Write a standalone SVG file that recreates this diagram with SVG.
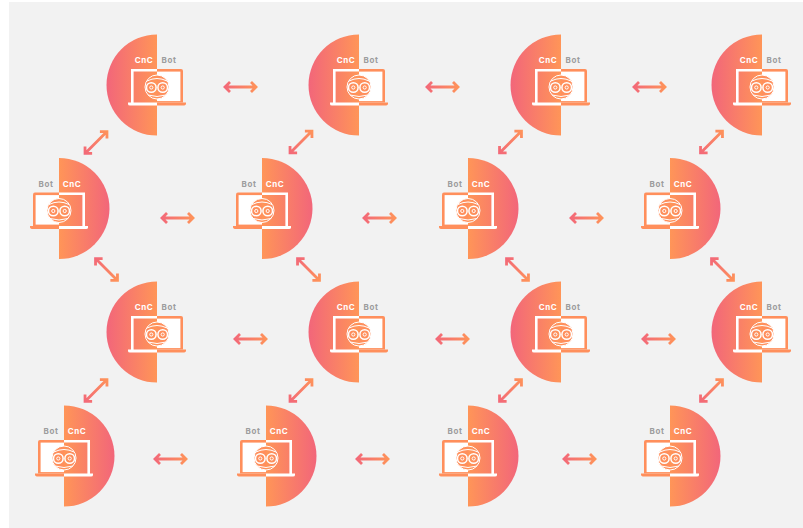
<svg xmlns="http://www.w3.org/2000/svg" width="803" height="528" viewBox="0 0 803 528">
<style>
.t{font-family:"Inter","Liberation Sans",sans-serif;font-size:8px;font-weight:700;letter-spacing:.6px;text-anchor:middle}
.c{fill:#fff}.b{fill:#9d9d9d}
.ln{fill:none;stroke:#fff;stroke-width:1}
.e{fill:none;stroke:#fff;stroke-width:1.5}
.a{fill:none;stroke:url(#ag);stroke-width:2.8}
</style>
<defs>
<linearGradient id="dl" x1="0" x2="1" y1="0" y2="0"><stop offset="0" stop-color="#f2667a"/><stop offset="1" stop-color="#ff9558"/></linearGradient>
<linearGradient id="dr" x1="0" x2="1" y1="0" y2="0"><stop offset="0" stop-color="#ff9558"/><stop offset="1" stop-color="#f2667a"/></linearGradient>
<linearGradient id="ag" gradientUnits="userSpaceOnUse" x1="-18" x2="18" y1="0" y2="0"><stop offset="0" stop-color="#f2667a"/><stop offset="1" stop-color="#ff9558"/></linearGradient>
<g id="face">
<path d="M0-10A12 12 0 0 1 0 14Z" fill="#ff8f5c"/>
<circle cx="0" cy="2" r="12" class="ln"/>
<circle cx="-5.700" cy="2.500" r="4.800" class="e"/><circle cx="-5.700" cy="2.500" r="1.600" class="ln"/>
<circle cx="5.700" cy="2.500" r="4.800" class="e"/><circle cx="5.700" cy="2.500" r="1.600" class="ln"/>
<path class="ln" d="M-10-4Q0-9 10-4M-9 10Q0 13 9 10"/>
</g>
<g id="na">
<path d="M0-50.500A50.500 50.500 0 0 0 0 50.500Z" fill="url(#dl)"/>
<path d="M0-14.700H-24.700V18" fill="none" stroke="#fff" stroke-width="2.600"/>
<path d="M0 17.500H-29V19Q-29 20.500-27 20.500H0Z" fill="#fff"/>
<path d="M0-16H24Q26-16 26-14V17.500H0Z" fill="#ff8f5c"/>
<rect x="0" y="-13.400" width="23.400" height="29.500" fill="#fff"/>
<path d="M0 17.500H29V18.500Q29 20.500 26 20.500H0Z" fill="#ff8f5c"/>
<use href="#face"/>
</g>
<g id="nb">
<path d="M0-50.500A50.500 50.500 0 0 1 0 50.500Z" fill="url(#dr)"/>
<path d="M0-14.700H24.700V18" fill="none" stroke="#fff" stroke-width="2.600"/>
<path d="M0 17.500H29V19Q29 20.500 27 20.500H0Z" fill="#fff"/>
<path d="M0-16H-24Q-26-16-26-14V17.500H0Z" fill="#ff8f5c"/>
<rect x="-23.400" y="-13.400" width="23.400" height="29.500" fill="#fff"/>
<path d="M0 17.500H-29V18.500Q-29 20.500-26 20.500H0Z" fill="#ff8f5c"/>
<g transform="scale(-1 1)"><use href="#face"/></g>
</g>
<g id="ar"><path class="a" d="M-15.500 0H15.500M-10.500-5L-15.500 0L-10.500 5M10.500-5L15.500 0L10.500 5"/></g>
</defs>
<rect width="803" height="528" fill="#fff"/>
<rect x="9" y="2" width="794" height="526" fill="#f2f2f2"/>
<g id="connectors">
<use href="#ar" transform="translate(240.500 87)"/><use href="#ar" transform="translate(442.500 87)"/><use href="#ar" transform="translate(649.500 87)"/>
<use href="#ar" transform="translate(177.500 218)"/><use href="#ar" transform="translate(379.500 218)"/><use href="#ar" transform="translate(586.500 218)"/>
<use href="#ar" transform="translate(250.500 339)"/><use href="#ar" transform="translate(452.500 339)"/><use href="#ar" transform="translate(658.500 339)"/>
<use href="#ar" transform="translate(170.500 459)"/><use href="#ar" transform="translate(372.500 459)"/><use href="#ar" transform="translate(579.500 459)"/>
<use href="#ar" transform="translate(96 142.500) rotate(-45)"/><use href="#ar" transform="translate(301 142) rotate(-45)"/><use href="#ar" transform="translate(510.500 142) rotate(-45)"/><use href="#ar" transform="translate(711.500 142) rotate(-45)"/>
<use href="#ar" transform="translate(106.500 269.500) rotate(45)"/><use href="#ar" transform="translate(308.500 269.500) rotate(45)"/><use href="#ar" transform="translate(517.500 269.500) rotate(45)"/><use href="#ar" transform="translate(722.500 269.500) rotate(45)"/>
<use href="#ar" transform="translate(96 390.500) rotate(-45)"/><use href="#ar" transform="translate(301 390.500) rotate(-45)"/><use href="#ar" transform="translate(510.500 390.500) rotate(-45)"/><use href="#ar" transform="translate(711.500 390.500) rotate(-45)"/>
</g>
<g id="n11" transform="translate(157 85)"><use href="#na"/><text class="t c" x="-13" y="-22">CnC</text><text class="t b" x="12" y="-22">Bot</text></g>
<g id="n12" transform="translate(359 85)"><use href="#na"/><text class="t c" x="-13" y="-22">CnC</text><text class="t b" x="12" y="-22">Bot</text></g>
<g id="n13" transform="translate(561 85)"><use href="#na"/><text class="t c" x="-13" y="-22">CnC</text><text class="t b" x="12" y="-22">Bot</text></g>
<g id="n14" transform="translate(762 85)"><use href="#na"/><text class="t c" x="-13" y="-22">CnC</text><text class="t b" x="12" y="-22">Bot</text></g>
<g id="n21" transform="translate(59 208.500)"><use href="#nb"/><text class="t b" x="-13" y="-22">Bot</text><text class="t c" x="13" y="-22">CnC</text></g>
<g id="n22" transform="translate(262 208.500)"><use href="#nb"/><text class="t b" x="-13" y="-22">Bot</text><text class="t c" x="13" y="-22">CnC</text></g>
<g id="n23" transform="translate(468 208.500)"><use href="#nb"/><text class="t b" x="-13" y="-22">Bot</text><text class="t c" x="13" y="-22">CnC</text></g>
<g id="n24" transform="translate(670 208.500)"><use href="#nb"/><text class="t b" x="-13" y="-22">Bot</text><text class="t c" x="13" y="-22">CnC</text></g>
<g id="n31" transform="translate(157 332)"><use href="#na"/><text class="t c" x="-13" y="-22">CnC</text><text class="t b" x="12" y="-22">Bot</text></g>
<g id="n32" transform="translate(359 332)"><use href="#na"/><text class="t c" x="-13" y="-22">CnC</text><text class="t b" x="12" y="-22">Bot</text></g>
<g id="n33" transform="translate(561 332)"><use href="#na"/><text class="t c" x="-13" y="-22">CnC</text><text class="t b" x="12" y="-22">Bot</text></g>
<g id="n34" transform="translate(762 332)"><use href="#na"/><text class="t c" x="-13" y="-22">CnC</text><text class="t b" x="12" y="-22">Bot</text></g>
<g id="n41" transform="translate(64 456)"><use href="#nb"/><text class="t b" x="-13" y="-22">Bot</text><text class="t c" x="13" y="-22">CnC</text></g>
<g id="n42" transform="translate(266 456)"><use href="#nb"/><text class="t b" x="-13" y="-22">Bot</text><text class="t c" x="13" y="-22">CnC</text></g>
<g id="n43" transform="translate(468 456)"><use href="#nb"/><text class="t b" x="-13" y="-22">Bot</text><text class="t c" x="13" y="-22">CnC</text></g>
<g id="n44" transform="translate(670 456)"><use href="#nb"/><text class="t b" x="-13" y="-22">Bot</text><text class="t c" x="13" y="-22">CnC</text></g>
</svg>
